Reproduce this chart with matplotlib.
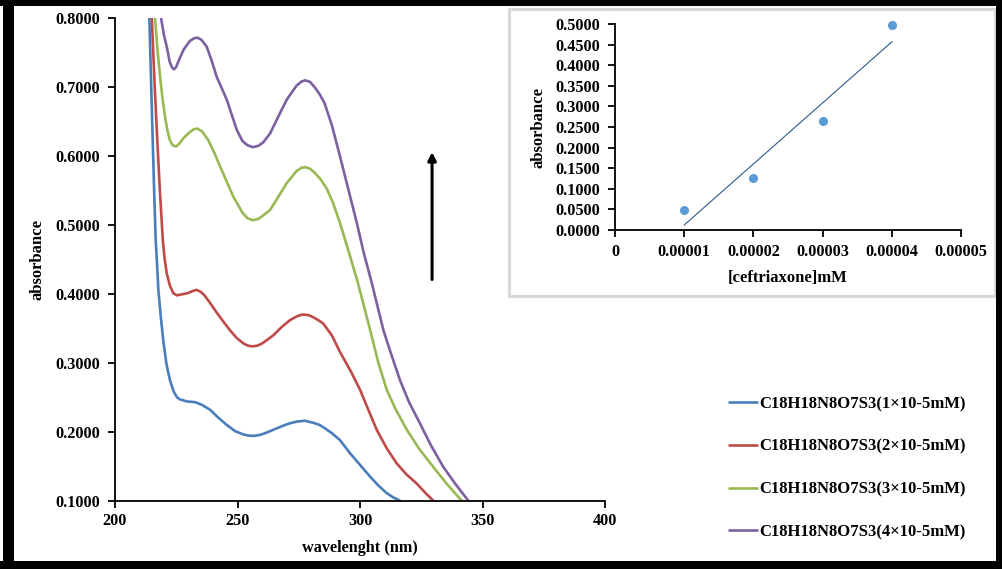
import numpy as np
import matplotlib
matplotlib.use("Agg")
import matplotlib.pyplot as plt
from matplotlib.patches import Rectangle
from matplotlib.ticker import FuncFormatter

plt.rcParams['font.family'] = ['Liberation Serif', 'DejaVu Serif']
plt.rcParams['font.weight'] = 'bold'

# UV-Vis spectra, wavelength (nm) vs absorbance
wl_1 = [213.6, 214.0, 214.7, 215.4, 216.0, 216.6, 217.2, 217.7, 218.7, 219.7, 221.0, 222.4,
        224.0, 225.3, 226.5, 229.5, 232.7, 235.5, 238.8, 242.0, 245.6, 249.0, 252.5, 254.5,
        256.5, 258.5, 260.5, 264.0, 267.3, 271.0, 274.5, 277.6, 281.0, 283.5, 285.7, 288.5,
        291.8, 295.9, 300.0, 304.1, 307.5, 310.9, 313.5, 316.3]
abs_1 = [0.850, 0.800, 0.710, 0.619, 0.545, 0.478, 0.440, 0.405, 0.366, 0.332, 0.298, 0.275,
         0.258, 0.250, 0.247, 0.244, 0.243, 0.239, 0.232, 0.221, 0.210, 0.201, 0.196, 0.1945,
         0.194, 0.195, 0.197, 0.202, 0.207, 0.212, 0.215, 0.216, 0.213, 0.210, 0.205, 0.198,
         0.188, 0.169, 0.152, 0.135, 0.122, 0.111, 0.105, 0.100]

wl_2 = [214.6, 215.0, 216.2, 217.3, 218.3, 219.5, 220.2, 221.1, 222.4, 223.8, 225.3, 226.5,
        229.5, 231.5, 233.3, 235.0, 236.5, 238.8, 241.5, 244.2, 247.0, 249.7, 252.5, 254.3,
        256.2, 258.0, 260.0, 264.6, 268.0, 271.4, 274.5, 276.2, 277.6, 279.3, 281.0, 283.0,
        285.0, 288.5, 291.8, 296.5, 300.0, 303.5, 306.8, 310.9, 315.0, 319.0, 323.1, 326.5,
        329.9]
abs_2 = [0.850, 0.800, 0.700, 0.619, 0.550, 0.478, 0.452, 0.430, 0.412, 0.401, 0.398, 0.399,
         0.401, 0.404, 0.406, 0.403, 0.398, 0.387, 0.373, 0.360, 0.347, 0.336, 0.328, 0.325,
         0.324, 0.325, 0.328, 0.340, 0.352, 0.362, 0.368, 0.370, 0.370, 0.369, 0.366, 0.362,
         0.357, 0.340, 0.316, 0.286, 0.261, 0.231, 0.203, 0.176, 0.154, 0.138, 0.125, 0.112,
         0.100]

wl_3 = [215.9, 216.3, 217.3, 218.4, 219.4, 220.4, 221.4, 222.4, 223.5, 224.9, 226.2, 227.9,
        230.5, 232.2, 233.6, 235.5, 238.1, 240.5, 242.9, 248.3, 252.0, 254.0, 256.2, 258.5,
        260.5, 263.3, 267.0, 270.1, 274.0, 276.0, 277.6, 279.5, 281.5, 284.0, 286.4, 289.0,
        291.8, 295.5, 299.0, 304.1, 307.5, 310.9, 314.5, 319.1, 324.0, 329.9, 335.5, 341.5]
abs_3 = [0.850, 0.800, 0.755, 0.715, 0.683, 0.657, 0.637, 0.623, 0.616, 0.614, 0.618, 0.626,
         0.635, 0.639, 0.640, 0.636, 0.623, 0.605, 0.585, 0.541, 0.518, 0.510, 0.507, 0.509,
         0.514, 0.522, 0.543, 0.561, 0.578, 0.583, 0.584, 0.582, 0.576, 0.566, 0.553, 0.532,
         0.503, 0.460, 0.418, 0.348, 0.300, 0.261, 0.233, 0.203, 0.176, 0.149, 0.124, 0.100]

wl_4 = [218.4, 218.8, 220.0, 221.1, 222.3, 223.2, 224.0, 224.9, 225.8, 227.9, 230.5, 232.2,
        233.6, 235.2, 237.4, 239.5, 241.5, 245.6, 249.7, 252.0, 254.0, 256.2, 258.5, 260.5,
        263.3, 267.0, 270.1, 274.0, 276.0, 277.6, 279.5, 281.5, 283.5, 285.5, 288.5, 291.8,
        298.7, 301.5, 304.8, 309.5, 312.5, 316.3, 320.0, 324.5, 329.0, 334.0, 339.0, 344.2]
abs_4 = [0.850, 0.800, 0.775, 0.759, 0.737, 0.729, 0.726, 0.729, 0.737, 0.754, 0.767, 0.771,
         0.772, 0.769, 0.759, 0.738, 0.715, 0.682, 0.638, 0.622, 0.616, 0.613, 0.615, 0.620,
         0.633, 0.660, 0.682, 0.702, 0.708, 0.710, 0.708, 0.700, 0.690, 0.677, 0.645, 0.600,
         0.503, 0.460, 0.416, 0.348, 0.315, 0.275, 0.243, 0.212, 0.180, 0.149, 0.124, 0.100]

series_labels = ['C18H18N8O7S3(1×10-5mM)', 'C18H18N8O7S3(2×10-5mM)',
                 'C18H18N8O7S3(3×10-5mM)', 'C18H18N8O7S3(4×10-5mM)']
series_colors = ['#4A7EBB', '#BE4B48', '#98B954', '#7D60A0']

# calibration points
conc = [0.00001, 0.00002, 0.00003, 0.00004]
conc_abs = [0.049, 0.127, 0.265, 0.497]

fig = plt.figure(figsize=(10.03, 5.69), dpi=100)

# frame around the whole figure
for (x0, y0, w, h) in [(3, 0, 11, 569), (0, 0, 1003, 6), (0, 561, 1003, 8), (996, 0, 7, 569)]:
    fig.patches.append(Rectangle((x0 / 1003, 1 - (y0 + h) / 569), w / 1003, h / 569,
                                 transform=fig.transFigure, facecolor='black',
                                 edgecolor='none', zorder=10))

# box behind the calibration inset
fig.patches.append(Rectangle((509 / 1003, 1 - 296 / 569), 486 / 1003, 287 / 569,
                             transform=fig.transFigure, facecolor='white',
                             edgecolor='#d9d9d9', lw=2.2, zorder=-1))

ax = fig.add_axes([0.1147, 0.1200, 0.4885, 0.8478])
ax.patch.set_visible(False)
for wl, ab, lab, col in zip([wl_1, wl_2, wl_3, wl_4], [abs_1, abs_2, abs_3, abs_4],
                            series_labels, series_colors):
    ax.plot(wl, ab, color=col, lw=1.9, label=lab, solid_capstyle='round', solid_joinstyle='round')

ax.set_xlim(200, 400)
ax.set_ylim(0.1, 0.8)
ax.set_xticks(np.arange(200, 401, 50))
ax.set_yticks(np.arange(0.1, 0.801, 0.1))
ax.yaxis.set_major_formatter(FuncFormatter(lambda v, p: f'{v:.4f}'))
for s in ['top', 'right']:
    ax.spines[s].set_visible(False)
for s in ['left', 'bottom']:
    ax.spines[s].set_linewidth(1.3)
ax.tick_params(axis='y', direction='out', length=5, width=1.3, pad=6, labelsize=11.7)
ax.tick_params(axis='x', direction='out', length=5, width=1.3, pad=4, labelsize=11.7)
ax.set_xlabel('wavelenght (nm)', fontsize=11.7, fontweight='bold', labelpad=8)
ax.set_ylabel('absorbance', fontsize=12, fontweight='bold', labelpad=7)

# arrow showing increasing concentration
ax.annotate('', xy=(329.4, 0.606), xytext=(329.4, 0.421),
            arrowprops=dict(arrowstyle='-|>', color='black', lw=2.2,
                            mutation_scale=12, shrinkA=0, shrinkB=0))

fig.legend(loc='upper left', bbox_to_anchor=(729 / 1003, 1 - 396 / 569),
           frameon=False, fontsize=12, handlelength=1.7, handletextpad=0.1,
           labelspacing=1.6, borderpad=0, borderaxespad=0)

# calibration inset
ins = fig.add_axes([0.6132, 0.5958, 0.3450, 0.3620])
ins.patch.set_visible(False)
ins.plot(conc, conc_abs, 'o', color='#5B9BD5', markersize=5.5, zorder=3, clip_on=False)
slope, intercept = np.polyfit(conc, conc_abs, 1)
fit_x = np.array([conc[0], conc[-1]])
ins.plot(fit_x, slope * fit_x + intercept, color='#2E5A8A', lw=0.8)
ins.set_xlim(0, 0.00005)
ins.set_ylim(0, 0.5)
ins.set_xticks([0, 0.00001, 0.00002, 0.00003, 0.00004, 0.00005])
ins.set_yticks(np.arange(0, 0.5001, 0.05))
ins.xaxis.set_major_formatter(FuncFormatter(lambda v, p: '0' if v == 0 else f'{v:.5f}'))
ins.yaxis.set_major_formatter(FuncFormatter(lambda v, p: f'{v:.4f}'))
for s in ['top', 'right']:
    ins.spines[s].set_visible(False)
for s in ['left', 'bottom']:
    ins.spines[s].set_linewidth(1.3)
ins.tick_params(axis='y', direction='out', length=5, width=1.3, pad=6, labelsize=11.7)
ins.tick_params(axis='x', direction='out', length=5, width=1.3, pad=5, labelsize=11.7)
ins.set_xlabel('[ceftriaxone]mM', fontsize=12, fontweight='bold', labelpad=7)
ins.set_ylabel('absorbance', fontsize=12, fontweight='bold', labelpad=6)

fig.savefig('out.png', dpi=100, facecolor='white')
